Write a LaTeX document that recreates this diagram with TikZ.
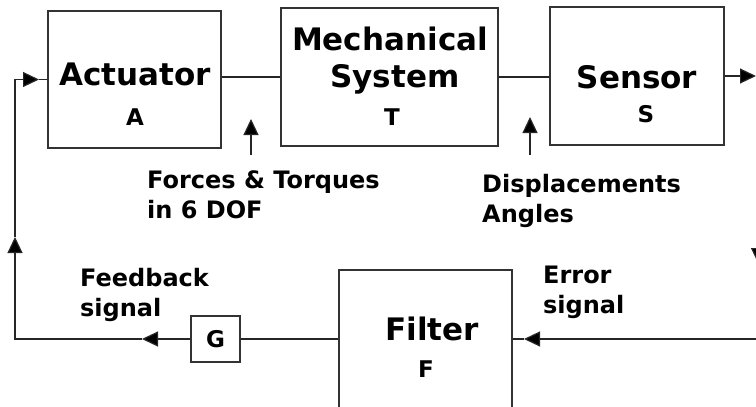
\documentclass[tikz,border=0pt]{standalone}
\usepackage{fontspec}
\setmainfont{DejaVu Sans}
\usetikzlibrary{arrows.meta}
\begin{document}
\begin{tikzpicture}[x=1pt,y=-1pt,
  box/.style={draw=black!80,line width=1.5pt,rectangle,inner sep=0pt},
  wire/.style={draw=black!85,line width=1.2pt},
  tip/.style={-{Triangle[length=16pt,width=15pt,fill=black]}},
  big/.style={font=\fontsize{31}{37}\selectfont\bfseries,anchor=base,inner sep=0pt},
  mid/.style={font=\fontsize{23}{27}\selectfont\bfseries,anchor=base,inner sep=0pt},
  lbl/.style={font=\fontsize{24}{30}\selectfont\bfseries,align=left,anchor=base west,inner sep=0pt}]
\useasboundingbox (0,0) rectangle (756,407);
\clip (0,0) rectangle (756,407);
% boxes
\node[box,minimum width=173pt,minimum height=137pt] (act) at (134.5,79.5) {};
\node[box,minimum width=217pt,minimum height=138pt] (mech) at (389.5,77) {};
\node[box,minimum width=174pt,minimum height=138pt] (sens) at (637,76) {};
\node[box,minimum width=49pt,minimum height=46pt] (G) at (215.5,339) {};
\node[box,minimum width=173pt,minimum height=200pt] (filt) at (425.5,370) {};
% texts in boxes
\node[big] (tAct) at (135,85) {Actuator};
\node[mid] (tA) at (135,125) {A};
\node[big] (tMech1) at (390,50) {Mechanical};
\node[big] (tMech2) at (395,87) {System};
\node[mid] (tT) at (392,125) {T};
\node[big] (tSens) at (637,88) {Sensor};
\node[mid] (tS) at (646,122) {S};
\node[big] (tFil) at (432,340) {Filter};
\node[mid] (tF) at (426,377) {F};
\node[mid] (tG) at (215.5,347) {G};
% labels (anchor at baseline of last line)
\node[lbl] (lForce) at (147,218) {Forces \& Torques\\in 6 DOF};
\node[lbl] (lDisp) at (482,222) {Displacements\\Angles};
\node[lbl] (lFb) at (80,316) {Feedback\\signal};
\node[lbl] (lErr) at (543,313) {Error\\signal};
% coordinates
\coordinate (out) at (756,76);
\coordinate (f0) at (251,155);
\coordinate (f1) at (251,119);
\coordinate (d0) at (530,155);
\coordinate (d1) at (530,117);
\coordinate (fbA) at (142,339);
\coordinate (cB) at (15,339);
\coordinate (upTip) at (15,237);
\coordinate (cT) at (15,79.5);
\coordinate (inTip) at (39,79.5);
\coordinate (errIn) at (757,339);
\coordinate (errTip) at (524,339);
\coordinate (r0) at (758.5,225);
\coordinate (r1) at (758.5,264);
% connectors
\draw[wire] (act.east |- mech.west) -- (mech.west);
\draw[wire] (mech.east) -- (sens.west |- mech.east);
\draw[wire,tip] (sens.east |- out) -- (out);
\draw[wire,tip] (f0) -- (f1);
\draw[wire,tip] (d0) -- (d1);
\draw[wire,tip] (G.west) -- (fbA);
\draw[wire,tip] (fbA) -- (cB) -- (upTip);
\draw[wire,tip] (upTip) -- (cT) -- (inTip);
\draw[wire] (inTip) -- (act.west);
\draw[wire] (G.east) -- (G.east -| filt.west);
\draw[wire,tip] (errIn) -- (errTip);
\draw[wire] (errTip) -- (filt.east |- errTip);
\draw[wire,tip] (r0) -- (r1);
\end{tikzpicture}
\end{document}
